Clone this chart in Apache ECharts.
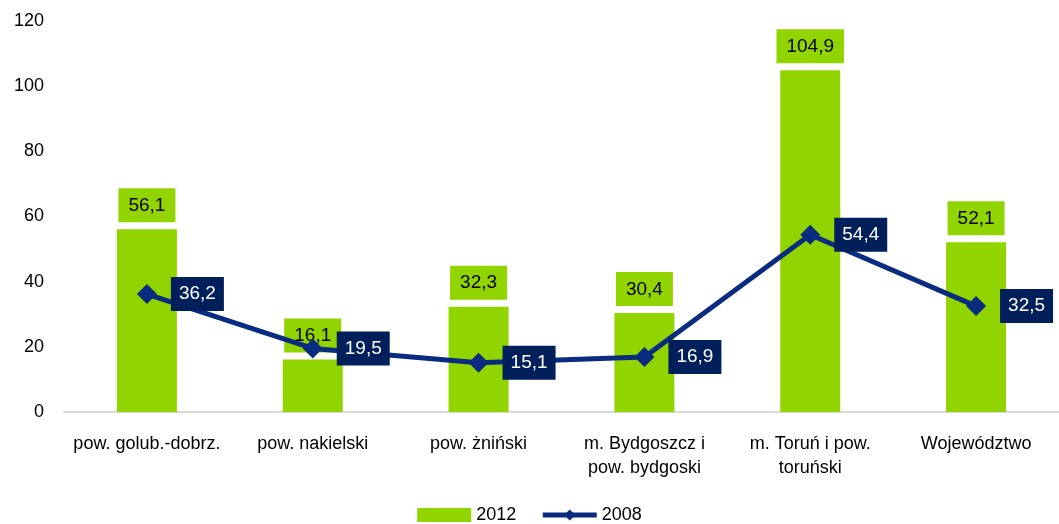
<!DOCTYPE html>
<html>
<head>
<meta charset="UTF-8">
<title>chart</title>
<script src="https://cdn.jsdelivr.net/npm/echarts@6/dist/echarts.min.js"></script>
<style>
html, body { margin: 0; padding: 0; background: #fff; }
</style>
</head>
<body>
<div id="main" style="width: 1059px;height:524px;"></div>
<script type="text/javascript">
var categories = ['pow. golub.-dobrz.', 'pow. nakielski', 'pow. żniński', 'm. Bydgoszcz i\npow. bydgoski', 'm. Toruń i pow.\ntoruński', 'Województwo'];
var values2012 = [56.1, 16.1, 32.3, 30.4, 104.9, 52.1];
var values2008 = [36.2, 19.5, 15.1, 16.9, 54.4, 32.5];
var yTicks = [0, 20, 40, 60, 80, 100, 120];

var font = 'Liberation Sans';
function fmt(v) { return String(v.toFixed(1)).replace('.', ','); }

var myChart = echarts.init(document.getElementById('main'));
var option = {
	animation: false,
	textStyle: { fontFamily: font },
	grid: { left: 64, right: 0, top: 21, bottom: 112, containLabel: false },
	legend: {
		bottom: 0,
		padding: 0,
		left: 'center',
		itemWidth: 54,
		itemHeight: 14,
		itemGap: 24,
		textStyle: { fontSize: 18, color: '#000', fontFamily: font },
		data: [
			{ name: '2012', icon: 'rect', itemStyle: { color: '#92d400' } },
			{ name: '2008', lineStyle: { width: 5, color: '#0a2c80' } }
		]
	},
	xAxis: {
		type: 'category',
		data: categories,
		axisLine: { lineStyle: { color: '#d9d9d9', width: 2 } },
		axisTick: { show: false },
		axisLabel: { fontSize: 18, color: '#000', margin: 20, lineHeight: 24, interval: 0 }
	},
	yAxis: {
		type: 'value',
		min: yTicks[0],
		max: yTicks[yTicks.length - 1],
		interval: 20,
		splitLine: { show: false },
		axisLine: { show: false },
		axisTick: { show: false },
		axisLabel: { fontSize: 18, color: '#000', margin: 20 }
	},
	series: [
		{
			name: '2012',
			type: 'bar',
			data: values2012,
			barWidth: 60,
			itemStyle: { color: '#92d400' },
			label: {
				show: true,
				position: 'top',
				distance: 7,
				formatter: function (p) { return fmt(p.value); },
				backgroundColor: '#92d400',
				color: '#000',
				fontSize: 19,
				padding: [8, 10, 7, 10]
			}
		},
		{
			name: '2008',
			type: 'line',
			data: values2008,
			symbol: 'diamond',
			symbolSize: 20,
			lineStyle: { color: '#0a2c80', width: 5 },
			itemStyle: { color: '#0a2c80' },
			label: {
				show: true,
				position: 'right',
				distance: 14,
				formatter: function (p) { return fmt(p.value); },
				backgroundColor: '#001f5b',
				color: '#fff',
				fontSize: 19,
				padding: [8, 8, 7, 8]
			},
			z: 3
		}
	]
};
myChart.setOption(option);
</script>
</body>
</html>
